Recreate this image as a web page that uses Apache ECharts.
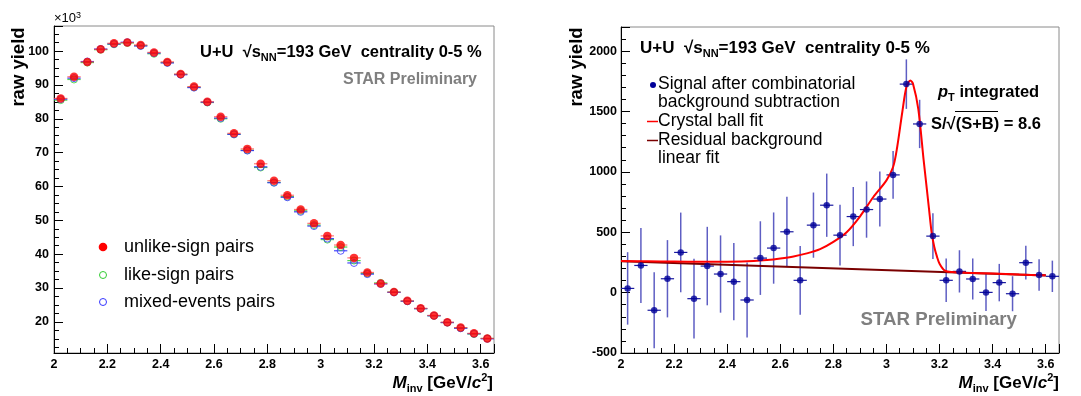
<!DOCTYPE html>
<html><head><meta charset="utf-8">
<script src="https://cdn.jsdelivr.net/npm/echarts/dist/echarts.min.js"></script>
<style>html,body{margin:0;padding:0;background:#fff}#c{width:1081px;height:396px}</style>
</head><body><div id="c"></div>
<script>
// ---------- data ----------
const binWidth = 0.05;
const massBins = [2.025,2.075,2.125,2.175,2.225,2.275,2.325,2.375,2.425,2.475,2.525,2.575,2.625,2.675,2.725,2.775,2.825,2.875,2.925,2.975,3.025,3.075,3.125,3.175,3.225,3.275,3.325,3.375,3.425,3.475,3.525,3.575,3.625];
// left panel (x 10^3)
const unlikeSign = [86.0,92.4,96.8,100.5,102.3,102.5,101.8,99.6,96.8,93.2,89.5,85.0,80.6,75.7,71.1,66.7,61.7,57.4,53.2,49.1,45.4,42.7,38.9,34.6,31.3,28.8,26.2,24.0,21.9,19.9,18.3,16.6,15.1];
const likeSign   = [85.5,91.6,96.6,100.4,102.0,102.4,101.6,99.2,96.6,93.1,89.3,84.8,80.0,75.4,70.7,65.6,61.2,57.0,52.8,48.6,44.3,42.1,38.1,34.3,31.5,28.8,26.1,23.9,21.8,19.8,18.2,16.4,15.1];
const mixedEvents= [85.8,92.0,96.9,100.6,102.1,102.6,101.5,99.4,96.5,93.0,89.2,84.9,80.2,75.4,70.6,65.8,61.1,56.8,52.5,48.3,44.6,41.0,37.4,34.1,31.2,28.7,26.1,23.9,21.8,19.8,18.1,16.5,15.0];
// right panel
const signal    = [35,225,-146,115,333,-50,220,154,91,-61,286,369,504,102,559,724,476,630,688,775,975,1727,1397,468,102,176,113,2,83,-9,248,146,135];
const signalErr = [300,310,315,320,330,330,325,320,320,310,305,295,290,285,270,262,252,245,233,228,197,205,200,190,180,175,170,155,155,145,140,130,130];
const cbFitX = [2.0,2.1,2.2,2.3,2.4,2.5,2.55,2.6,2.65,2.7,2.75,2.8,2.85,2.9,2.95,3.0,3.025,3.04,3.06,3.075,3.09,3.1,3.12,3.14,3.16,3.17,3.18,3.19,3.2,3.22,3.25,3.3,3.4,3.5,3.6];
const cbFitY = [262,259,257,255,256,262,270,283,300,325,360,420,500,630,790,930,1040,1200,1500,1700,1757,1730,1520,1100,700,500,380,300,240,182,170,165,158,150,143];
const linFitX = [2.0,3.6];
const linFitY = [260,142];

const FF = "'Liberation Sans', Arial, Helvetica, sans-serif";

function pairs(xs, ys){ return xs.map((x,i)=>[x, ys[i]]); }

function xAxisCfg(g){
  return {type:'value', gridIndex:g, min:2, max:3.65, interval:0.2,
    axisLine:{show:true,onZero:false,lineStyle:{color:'#000',width:1}},
    axisTick:{show:true,inside:true,length:9,lineStyle:{color:'#000',width:1}},
    minorTick:{show:true,splitNumber:4,length:5,lineStyle:{color:'#000',width:1}},
    splitLine:{show:false}, minorSplitLine:{show:false},
    axisLabel:{showMaxLabel:false,fontFamily:FF,fontWeight:'bold',fontSize:12.5,color:'#000',margin:5,formatter:v=>String(v)}};
}
function yAxisCfg(g, extra){
  return Object.assign({type:'value', gridIndex:g, scale:true,
    axisLine:{show:true,onZero:false,lineStyle:{color:'#000',width:1}},
    axisTick:{show:true,inside:true,length:9,lineStyle:{color:'#000',width:1}},
    minorTick:{show:true,splitNumber:4,length:5,lineStyle:{color:'#000',width:1}},
    splitLine:{show:false}, minorSplitLine:{show:false},
    axisLabel:{showMaxLabel:false,showMinLabel:false,fontFamily:FF,fontWeight:'bold',fontSize:12.5,color:'#000',margin:5,formatter:v=>String(v)}}, extra);
}

function hbarSeries(ys, color, xi, z){
  return {type:'custom', xAxisIndex:xi, yAxisIndex:xi, z:z, clip:true, silent:true,
    data: pairs(massBins, ys),
    encode:{x:0,y:1},
    renderItem:function(params, api){
      const x=api.value(0), y=api.value(1);
      const a=api.coord([x-binWidth/2,y]), b=api.coord([x+binWidth/2,y]);
      return {type:'line', shape:{x1:a[0],y1:a[1],x2:b[0],y2:b[1]}, style:{stroke:color,lineWidth:1.2}};
    }};
}

const errData = massBins.map((x,i)=>[x, signal[i], signalErr[i]]);

const option = {
  animation:false,
  backgroundColor:'#fff',
  grid:[
    {left:54, top:26, width:440, height:327, show:true, borderColor:'#8a8a8a', borderWidth:1, backgroundColor:'transparent'},
    {left:621, top:27, width:438, height:326, show:true, borderColor:'#8a8a8a', borderWidth:1, backgroundColor:'transparent'}
  ],
  xAxis:[xAxisCfg(0), xAxisCfg(1)],
  yAxis:[
    yAxisCfg(0,{min:10.8,max:107.4,splitNumber:10, minorTick:{show:true,splitNumber:4,length:5,lineStyle:{color:'#000',width:1}}}),
    yAxisCfg(1,{min:-500,max:2200,interval:500, minorTick:{show:true,splitNumber:5,length:5,lineStyle:{color:'#000',width:1}},
      axisLabel:{showMaxLabel:false,showMinLabel:true,fontFamily:FF,fontWeight:'bold',fontSize:12.5,color:'#000',margin:4,formatter:v=>String(v)}})
  ],
  series:[
    hbarSeries(likeSign,'rgba(40,200,40,0.8)',0,2),
    hbarSeries(mixedEvents,'rgba(40,40,255,0.85)',0,2),
    hbarSeries(unlikeSign,'rgba(255,60,60,0.7)',0,2),
    {type:'scatter', xAxisIndex:0, yAxisIndex:0, z:3, data:pairs(massBins, likeSign), symbol:'circle', symbolSize:7,
      itemStyle:{color:'rgba(0,0,0,0)', borderColor:'#33cc33', borderWidth:1}},
    {type:'scatter', xAxisIndex:0, yAxisIndex:0, z:3, data:pairs(massBins, mixedEvents), symbol:'circle', symbolSize:7,
      itemStyle:{color:'rgba(0,0,0,0)', borderColor:'#3535ff', borderWidth:1}},
    {type:'scatter', xAxisIndex:0, yAxisIndex:0, z:4, data:pairs(massBins, unlikeSign), symbol:'circle', symbolSize:8.5,
      itemStyle:{color:'#ff0000'}},
    // right panel
    {type:'custom', xAxisIndex:1, yAxisIndex:1, z:2, clip:true, silent:true, data:errData, encode:{x:0,y:1},
      renderItem:function(params, api){
        const x=api.value(0), y=api.value(1), e=api.value(2);
        const a=api.coord([x-binWidth/2,y]), b=api.coord([x+binWidth/2,y]);
        const t=api.coord([x,y+e]), d=api.coord([x,y-e]);
        return {type:'group', children:[
          {type:'line', shape:{x1:t[0],y1:t[1],x2:d[0],y2:d[1]}, style:{stroke:'rgba(40,40,175,0.75)',lineWidth:1.5}},
          {type:'line', shape:{x1:a[0],y1:a[1],x2:b[0],y2:b[1]}, style:{stroke:'#1a1aa0',lineWidth:1.2}}
        ]};
      }},
    {type:'line', xAxisIndex:1, yAxisIndex:1, z:3, data:pairs(linFitX, linFitY), showSymbol:false, symbol:'none',
      lineStyle:{color:'#7a0000', width:2}},
    {type:'line', xAxisIndex:1, yAxisIndex:1, z:4, data:pairs(cbFitX, cbFitY), showSymbol:false, symbol:'none', smooth:0.3,
      lineStyle:{color:'#ff0000', width:2}},
    {type:'scatter', xAxisIndex:1, yAxisIndex:1, z:5, data:pairs(massBins, signal), symbol:'circle', symbolSize:6.5,
      itemStyle:{color:'#000099'}}
  ],
  graphic:[
    // left panel texts
    {type:'text', x:54, y:18, style:{text:'{n|×10}{s|3}', verticalAlign:'middle', rich:{n:{fontFamily:FF,fontSize:13,fill:'#000'}, s:{fontFamily:FF,fontSize:9,fill:'#000',verticalAlign:'top'}}}},
    {type:'text', x:19, y:67, rotation:Math.PI/2, style:{text:'raw yield', fontFamily:FF, fontWeight:'bold', fontSize:18.5, fill:'#000', align:'center', verticalAlign:'middle'}},
    {type:'text', x:200, y:52, style:{text:'{b|U+U  √}{b|s}{sub|NN}{b|=193 GeV  centrality 0-5 %}', verticalAlign:'middle',
      rich:{b:{fontFamily:FF,fontWeight:'bold',fontSize:16.5,fill:'#000',lineHeight:22}, sub:{fontFamily:FF,fontWeight:'bold',fontSize:11,fill:'#000',verticalAlign:'bottom'}}}},
    {type:'text', x:477, y:80, style:{text:'STAR Preliminary', fontFamily:FF, fontWeight:'bold', fontSize:16, fill:'#7f7f7f', align:'right', verticalAlign:'middle'}},
    {type:'circle', shape:{cx:103, cy:247, r:4.3}, style:{fill:'#ff0000'}},
    {type:'circle', shape:{cx:103, cy:275, r:3.5}, style:{fill:'none', stroke:'#33cc33', lineWidth:1}},
    {type:'circle', shape:{cx:103, cy:302, r:3.5}, style:{fill:'none', stroke:'#3535ff', lineWidth:1}},
    {type:'text', x:124, y:247, style:{text:'unlike-sign pairs', fontFamily:FF, fontSize:18, fill:'#000', verticalAlign:'middle'}},
    {type:'text', x:124, y:275, style:{text:'like-sign pairs', fontFamily:FF, fontSize:18, fill:'#000', verticalAlign:'middle'}},
    {type:'text', x:124, y:302, style:{text:'mixed-events pairs', fontFamily:FF, fontSize:18, fill:'#000', verticalAlign:'middle'}},
    {type:'text', x:493, y:383, style:{text:'{m|M}{sub|inv}{b| [GeV/}{i|c}{sup|2}{b|]}', align:'right', verticalAlign:'middle',
      rich:{m:{fontFamily:FF,fontWeight:'bold',fontStyle:'italic',fontSize:17,fill:'#000',lineHeight:22}, sub:{fontFamily:FF,fontWeight:'bold',fontSize:11,fill:'#000',verticalAlign:'bottom'},
            b:{fontFamily:FF,fontWeight:'bold',fontSize:17,fill:'#000',lineHeight:22}, i:{fontFamily:FF,fontWeight:'bold',fontStyle:'italic',fontSize:17,fill:'#000',lineHeight:22},
            sup:{fontFamily:FF,fontWeight:'bold',fontSize:11,fill:'#000',verticalAlign:'top'}}}},
    // right panel texts
    {type:'text', x:577, y:67, rotation:Math.PI/2, style:{text:'raw yield', fontFamily:FF, fontWeight:'bold', fontSize:18.5, fill:'#000', align:'center', verticalAlign:'middle'}},
    {type:'text', x:640, y:48, style:{text:'{b|U+U  √}{b|s}{sub|NN}{b|=193 GeV  centrality 0-5 %}', verticalAlign:'middle',
      rich:{b:{fontFamily:FF,fontWeight:'bold',fontSize:17,fill:'#000',lineHeight:22}, sub:{fontFamily:FF,fontWeight:'bold',fontSize:11,fill:'#000',verticalAlign:'bottom'}}}},
    {type:'circle', shape:{cx:653, cy:85, r:3}, style:{fill:'#000099'}},
    {type:'line', shape:{x1:647, y1:121.5, x2:658, y2:121.5}, style:{stroke:'#ff0000', lineWidth:1.5}},
    {type:'line', shape:{x1:647, y1:140.5, x2:658, y2:140.5}, style:{stroke:'#7a0000', lineWidth:1.5}},
    {type:'text', x:658, y:84, style:{text:'Signal after combinatorial', fontFamily:FF, fontSize:17.5, fill:'#000', verticalAlign:'middle'}},
    {type:'text', x:658, y:102, style:{text:'background subtraction', fontFamily:FF, fontSize:17.5, fill:'#000', verticalAlign:'middle'}},
    {type:'text', x:658, y:121, style:{text:'Crystal ball fit', fontFamily:FF, fontSize:17.5, fill:'#000', verticalAlign:'middle'}},
    {type:'text', x:658, y:140, style:{text:'Residual background', fontFamily:FF, fontSize:17.5, fill:'#000', verticalAlign:'middle'}},
    {type:'text', x:658, y:158, style:{text:'linear fit', fontFamily:FF, fontSize:17.5, fill:'#000', verticalAlign:'middle'}},
    {type:'text', x:938, y:92, style:{text:'{p|p}{sub|T}{b| integrated}', verticalAlign:'middle',
      rich:{p:{fontFamily:FF,fontWeight:'bold',fontStyle:'italic',fontSize:16.5,fill:'#000',lineHeight:22}, sub:{fontFamily:FF,fontWeight:'bold',fontSize:11,fill:'#000',verticalAlign:'bottom'}, b:{fontFamily:FF,fontWeight:'bold',fontSize:16.5,fill:'#000',lineHeight:22}}}},
    {type:'text', x:931, y:124, style:{text:'S/√(S+B) = 8.6', fontFamily:FF, fontWeight:'bold', fontSize:16.5, fill:'#000', verticalAlign:'middle'}},
    {type:'line', shape:{x1:955, y1:111.5, x2:998, y2:111.5}, style:{stroke:'#000', lineWidth:1}},
    {type:'text', x:1017, y:320, style:{text:'STAR Preliminary', fontFamily:FF, fontWeight:'bold', fontSize:18.7, fill:'#7f7f7f', align:'right', verticalAlign:'middle'}},
    {type:'text', x:1059, y:383, style:{text:'{m|M}{sub|inv}{b| [GeV/}{i|c}{sup|2}{b|]}', align:'right', verticalAlign:'middle',
      rich:{m:{fontFamily:FF,fontWeight:'bold',fontStyle:'italic',fontSize:17,fill:'#000',lineHeight:22}, sub:{fontFamily:FF,fontWeight:'bold',fontSize:11,fill:'#000',verticalAlign:'bottom'},
            b:{fontFamily:FF,fontWeight:'bold',fontSize:17,fill:'#000',lineHeight:22}, i:{fontFamily:FF,fontWeight:'bold',fontStyle:'italic',fontSize:17,fill:'#000',lineHeight:22},
            sup:{fontFamily:FF,fontWeight:'bold',fontSize:11,fill:'#000',verticalAlign:'top'}}}}
  ]
};
const chart = echarts.init(document.getElementById('c'), null, {renderer:'canvas'});
chart.setOption(option);
</script></body></html>
